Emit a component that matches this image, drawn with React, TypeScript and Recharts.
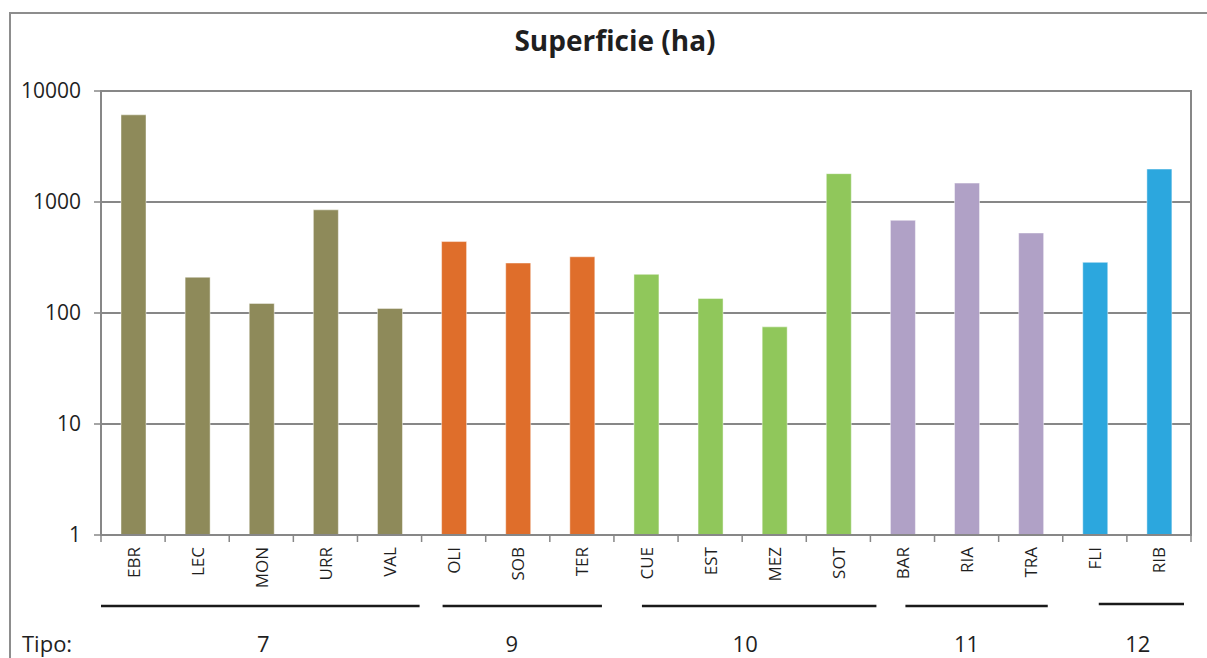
import React from 'react';
import { BarChart, Bar, XAxis, YAxis, CartesianGrid, Cell, ReferenceArea } from 'recharts';

// Surface per site (ha), grouped by type
const categories = ['EBR', 'LEC', 'MON', 'URR', 'VAL', 'OLI', 'SOB', 'TER', 'CUE', 'EST', 'MEZ', 'SOT', 'BAR', 'RIA', 'TRA', 'FLI', 'RIB'];
const superficie = [6100, 210, 122, 850, 110, 440, 282, 321, 223, 135, 75, 1800, 684, 1480, 526, 286, 1980];
const tipos = ['7', '7', '7', '7', '7', '9', '9', '9', '10', '10', '10', '10', '11', '11', '11', '12', '12'];
const yTicks = [1, 10, 100, 1000, 10000];
const title = 'Superficie (ha)';
const tipoTitle = 'Tipo:';

// Styling
const tipoColors: Record<string, string> = {
  '7': '#8E8A5A',
  '9': '#DF6E2B',
  '10': '#90C75B',
  '11': '#B0A1C6',
  '12': '#2CA7DE',
};
// hand-placed group underline insets (px from band edges) and label nudges
const groupStyle: Record<string, { start: number; end: number; dx: number; dy: number }> = {
  '7': { start: 0, end: -2, dx: 2, dy: 0 },
  '9': { start: 21, end: -12, dx: -6, dy: 0 },
  '10': { start: 28, end: 6, dx: 3, dy: 0 },
  '11': { start: 35, end: -15, dx: 0, dy: 0 },
  '12': { start: 36, end: -7, dx: 11, dy: -2 },
};

const W = 1207;
const H = 658;
const PLOT_LEFT = 101;
const PLOT_RIGHT = 1191;
const PLOT_TOP = 91;
const PLOT_BOTTOM = 535;
const BAND = (PLOT_RIGHT - PLOT_LEFT) / categories.length;
const FONT = '"Open Sans", "Noto Sans", sans-serif';
const TEXT = '#1f1f1f';
const GRID = '#878787';

const data = categories.map((name, i) => ({ name, value: superficie[i], tipo: tipos[i] }));

const groups: { tipo: string; first: number; last: number }[] = [];
tipos.forEach((t, i) => {
  const g = groups[groups.length - 1];
  if (g && g.tipo === t) g.last = i;
  else groups.push({ tipo: t, first: i, last: i });
});

function CategoryTick(props: any) {
  const { x, index, payload } = props;
  const group = groups.find((g) => g.first === index);
  return (
    <g>
      <line x1={x - BAND / 2} x2={x - BAND / 2} y1={PLOT_BOTTOM} y2={PLOT_BOTTOM + 7} stroke={GRID} strokeWidth={1.5} />
      {index === categories.length - 1 && (
        <line x1={x + BAND / 2} x2={x + BAND / 2} y1={PLOT_BOTTOM} y2={PLOT_BOTTOM + 7} stroke={GRID} strokeWidth={1.5} />
      )}
      <text
        x={x}
        y={PLOT_BOTTOM + 12}
        transform={`rotate(-90, ${x}, ${PLOT_BOTTOM + 12})`}
        textAnchor="end"
        dominantBaseline="central"
        fontFamily={FONT}
        fontSize={17}
        fill={TEXT}
      >
        {payload.value}
      </text>
      {index === 0 && (
        <text x={22} y={652} fontFamily={FONT} fontSize={22} fill={TEXT}>
          {tipoTitle}
        </text>
      )}
      {group && (() => {
        const s = groupStyle[group.tipo];
        const span = (group.last - group.first) * BAND;
        const x1 = x - BAND / 2 + s.start;
        const x2 = x + span + BAND / 2 + s.end;
        return (
          <g>
            <line x1={x1} x2={x2} y1={606 + s.dy} y2={606 + s.dy} stroke="#1a1a1a" strokeWidth={2.5} />
            <text
              x={x + span / 2 + s.dx}
              y={652}
              textAnchor="middle"
              fontFamily={FONT}
              fontSize={22}
              fill={TEXT}
            >
              {group.tipo}
            </text>
          </g>
        );
      })()}
    </g>
  );
}

export default function App() {
  return (
    <div style={{ position: 'absolute', left: 0, top: 0, width: W, height: H, overflow: 'hidden', background: '#fff' }}>
      <div
        style={{
          position: 'absolute',
          left: 9,
          top: 12,
          width: W + 40,
          height: H + 40,
          border: '2px solid #8d8d8d',
          boxSizing: 'border-box',
        }}
      />
      <div
        style={{
          position: 'absolute',
          left: 0,
          width: 1230,
          top: 20,
          lineHeight: '40px',
          textAlign: 'center',
          fontFamily: FONT,
          fontWeight: 700,
          fontSize: 28,
          color: TEXT,
        }}
      >
        {title}
      </div>
      <div style={{ position: 'absolute', left: 0, top: 0 }}>
        <BarChart
          width={W}
          height={H}
          data={data}
          margin={{ top: PLOT_TOP, right: W - PLOT_RIGHT, bottom: 0, left: 0 }}
          barCategoryGap={0}
        >
          <CartesianGrid vertical={false} stroke={GRID} strokeWidth={2} />
          <ReferenceArea y1={1} y2={10000} fill="none" stroke={GRID} strokeWidth={2} ifOverflow="visible" />
          <XAxis
            dataKey="name"
            type="category"
            interval={0}
            height={H - PLOT_BOTTOM}
            axisLine={{ stroke: GRID, strokeWidth: 2 }}
            tickLine={false}
            tick={(p: any) => <CategoryTick {...p} />}
          />
          <YAxis
            type="number"
            scale="log"
            domain={[1, 10000]}
            ticks={yTicks}
            allowDataOverflow
            width={PLOT_LEFT}
            axisLine={{ stroke: GRID, strokeWidth: 2 }}
            tickLine={{ stroke: GRID, strokeWidth: 1.5 }}
            tickSize={7}
            tickMargin={13}
            tick={{ fontFamily: FONT, fontSize: 21, fill: TEXT }}
          />
          <Bar dataKey="value" barSize={25} isAnimationActive={false} stroke="rgba(255,255,255,0.45)" strokeWidth={1}>
            {data.map((d) => (
              <Cell key={d.name} fill={tipoColors[d.tipo]} />
            ))}
          </Bar>
        </BarChart>
      </div>
    </div>
  );
}
